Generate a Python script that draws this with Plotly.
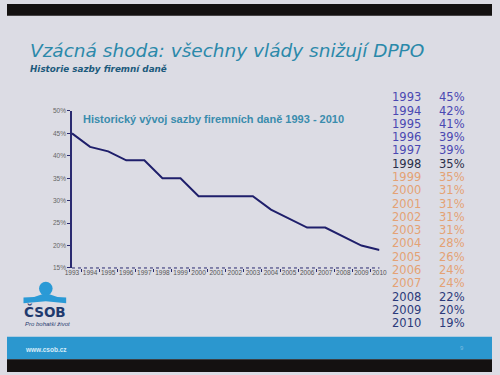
import plotly.graph_objects as go

years = ["1993", "1994", "1995", "1996", "1997", "1998", "1999", "2000", "2001",
         "2002", "2003", "2004", "2005", "2006", "2007", "2008", "2009", "2010"]
rates = [45, 42, 41, 39, 39, 35, 35, 31, 31, 31, 31, 28, 26, 24, 24, 22, 20, 19]
y_ticks = [15, 20, 25, 30, 35, 40, 45, 50]
y_tick_labels = ["15%", "20%", "25%", "30%", "35%", "40%", "45%", "50%"]
row_colors = (["#4a48b2"] * 5 + ["#2a2f4a"] + ["#e4a274"] * 9 + ["#2b3a7a"] * 3)

title = "Vzácná shoda: všechny vlády snižují DPPO"
subtitle = "Historie sazby firemní daně"
chart_title = "Historický vývoj sazby firemních daně 1993 - 2010"

W, H = 500, 375
def px(x):
    return x / W
def py(y):
    return 1 - y / H

fig = go.Figure()
fig.add_trace(go.Scatter(
    x=years, y=rates, mode="lines",
    line=dict(color="#1f1f6b", width=2),
    hoverinfo="x+y", showlegend=False,
))

shapes = [
    dict(type="rect", xref="paper", yref="paper", x0=0, x1=1, y0=py(12), y1=1,
         fillcolor="#141111", line_width=0, layer="below"),
    dict(type="rect", xref="paper", yref="paper", x0=0, x1=1, y0=py(362), y1=py(339),
         fillcolor="#2b97cf", line_width=0, layer="below"),
    dict(type="rect", xref="paper", yref="paper", x0=0, x1=1, y0=0, y1=py(362),
         fillcolor="#141111", line_width=0, layer="below"),
    dict(type="line", xref="paper", yref="paper", x0=px(67), x1=px(384),
         y0=py(269), y1=py(269), line=dict(color="#2a2a70", width=1, dash="dot")),
    dict(type="circle", xref="paper", yref="paper", x0=px(33), x1=px(47),
         y0=py(297), y1=py(283), fillcolor="#2a9ad6", line_width=0),
]
band = [(17, 299), (28, 298.5), (40, 294.5), (52, 298.5), (61, 299),
        (61, 305), (40, 303), (17, 305)]
path = "M " + " L ".join(f"{px(a):.4f},{py(b):.4f}" for a, b in band) + " Z"
shapes.append(dict(type="path", xref="paper", yref="paper", path=path,
                   fillcolor="#2a9ad6", line_width=0))

annotations = [
    dict(text=title, x=px(22), y=py(47), xref="paper", yref="paper",
         xanchor="left", yanchor="middle", showarrow=False,
         font=dict(family="DejaVu Sans", size=18.5, color="#2b89aa", style="italic")),
    dict(text=f"<b><i>{subtitle}</i></b>", x=px(22), y=py(66), xref="paper", yref="paper",
         xanchor="left", yanchor="middle", showarrow=False,
         font=dict(family="DejaVu Sans", size=8.8, color="#1d5a7c")),
    dict(text=f"<b>{chart_title}</b>", x=px(76), y=py(117), xref="paper", yref="paper",
         xanchor="left", yanchor="middle", showarrow=False,
         font=dict(family="Liberation Sans, Arial", size=11, color="#3a8cad")),
    dict(text="<b>ČSOB</b>", x=px(39), y=py(313), xref="paper", yref="paper",
         xanchor="center", yanchor="middle", showarrow=False,
         font=dict(family="DejaVu Sans", size=13.5, color="#1f3a6e")),
    dict(text="<i>Pro bohatší život</i>", x=px(17), y=py(326), xref="paper", yref="paper",
         xanchor="left", yanchor="middle", showarrow=False,
         font=dict(family="Liberation Sans", size=6, color="#1f3a6e")),
    dict(text="<b>www.csob.cz</b>", x=px(17), y=py(352), xref="paper", yref="paper",
         xanchor="left", yanchor="middle", showarrow=False,
         font=dict(family="Liberation Sans", size=6.5, color="#d6ecf8")),
    dict(text="9", x=px(469), y=py(351), xref="paper", yref="paper",
         xanchor="center", yanchor="middle", showarrow=False,
         font=dict(family="Liberation Sans", size=6, color="#7cbde2")),
]
for i, (yr, r) in enumerate(zip(years, rates)):
    yy = 95 + i * 13.55
    annotations.append(dict(text=yr, x=px(395), y=py(yy), xref="paper", yref="paper",
                            xanchor="left", yanchor="middle", showarrow=False,
                            font=dict(family="DejaVu Sans", size=11.5, color=row_colors[i])))
    annotations.append(dict(text=f"{r}%", x=px(474), y=py(yy), xref="paper", yref="paper",
                            xanchor="right", yanchor="middle", showarrow=False,
                            font=dict(family="DejaVu Sans", size=11.5, color=row_colors[i])))

fig.update_layout(
    width=W, height=H,
    margin=dict(l=0, r=0, t=0, b=0),
    paper_bgcolor="#dcdce4", plot_bgcolor="rgba(0,0,0,0)",
    shapes=shapes, annotations=annotations,
    xaxis=dict(
        domain=[px(67), px(384)], type="category",
        tickson="boundaries", ticks="outside", ticklen=3, tickcolor="#2a2a70",
        showline=False, showgrid=False, zeroline=False, tickangle=0,
        tickfont=dict(family="Liberation Sans", size=6.5, color="#555555"),
    ),
    yaxis=dict(
        domain=[py(269), py(109)], range=[15, 50],
        tickvals=y_ticks, ticktext=y_tick_labels,
        ticks="outside", ticklen=3, tickcolor="#2a2a70",
        showline=True, linecolor="#2a2a70", linewidth=1.5,
        showgrid=False, zeroline=False,
        tickfont=dict(family="Liberation Sans", size=6.5, color="#666666"),
    ),
)
fig.write_html(
    "out.html",
    config={"displayModeBar": False},
    post_script=("document.body.style.margin='0';"
                 "document.body.style.overflow='hidden';"
                 "var d=document.getElementById('{plot_id}');"
                 "d.style.position='fixed';d.style.left='0px';d.style.top='0px';"),
)
